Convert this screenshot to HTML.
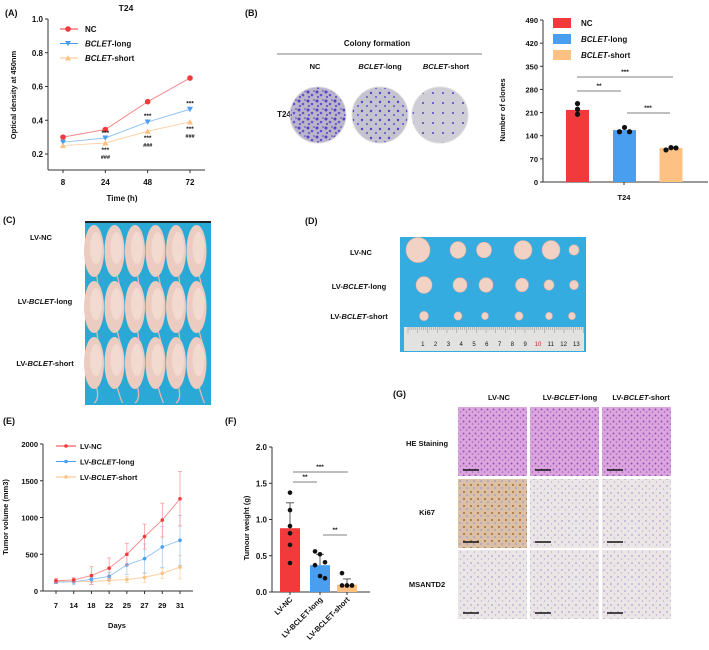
<!DOCTYPE html>
<html><head><meta charset="utf-8"><style>
html,body{margin:0;padding:0;background:#fff;}
svg{display:block;font-family:"Liberation Sans",Arial,sans-serif;font-weight:bold;}
</style></head><body>
<svg id="fig" width="709" height="650" viewBox="0 0 709 650" xmlns="http://www.w3.org/2000/svg">
<defs>
<pattern id="col1" width="9" height="9" patternUnits="userSpaceOnUse"><rect width="9" height="9" fill="#b9b6cc"/><circle cx="2" cy="2" r="1.5" fill="#5a3fc4"/><circle cx="6" cy="5" r="1.3" fill="#6a4fd0"/><circle cx="3" cy="7" r="1" fill="#5a3fc4"/><circle cx="8" cy="1" r="0.8" fill="#5a3fc4"/></pattern>
<pattern id="col2" width="9" height="9" patternUnits="userSpaceOnUse"><rect width="9" height="9" fill="#c4c3d0"/><circle cx="2" cy="3" r="1.2" fill="#5a3fc4"/><circle cx="7" cy="7" r="1" fill="#6a4fd0"/></pattern>
<pattern id="col3" width="10" height="10" patternUnits="userSpaceOnUse"><rect width="10" height="10" fill="#cfcdd6"/><circle cx="3" cy="3" r="1" fill="#5a3fc4"/></pattern>
<pattern id="he" width="6" height="6" patternUnits="userSpaceOnUse"><rect width="6" height="6" fill="#dba6dd"/><circle cx="1.5" cy="1.5" r="1" fill="#9b4fb8"/><circle cx="4.5" cy="4" r="0.8" fill="#a65fc0"/></pattern>
<pattern id="ki" width="7" height="7" patternUnits="userSpaceOnUse"><rect width="7" height="7" fill="#dcc0a6"/><circle cx="2" cy="2" r="1.1" fill="#b07a45"/><circle cx="5" cy="5" r="0.9" fill="#9a9ad0"/></pattern>
<pattern id="neg" width="7" height="7" patternUnits="userSpaceOnUse"><rect width="7" height="7" fill="#ece5e6"/><circle cx="2" cy="3" r="0.9" fill="#a7a6d6"/><circle cx="5.5" cy="6" r="0.7" fill="#b3b2dc"/></pattern>
</defs>
<g id="layer"></g>
</svg>
<script>
// ---- Panel A data ----
const aTimes=["8","24","48","72"];
const aNC=[0.30,0.345,0.51,0.65];
const aLong=[0.27,0.295,0.39,0.465];
const aShort=[0.25,0.265,0.335,0.39];
const aTicks=[0.2,0.4,0.6,0.8,1.0];
// ---- Panel B data ----
const bGroups=["NC","BCLET-long","BCLET-short"];
const bMeans=[218,157,103];
const bDots=[[237,220,205],[152,165,152],[97,104,103]];
const bTicks=[0,70,140,210,280,350,420,490];
// ---- Panel E data ----
const eDays=["7","14","18","22","25","27","29","31"];
const eNC=[140,150,210,310,500,740,965,1255];
const eNCerr=[30,30,120,140,150,170,230,370];
const eLong=[120,125,160,200,355,440,600,690];
const eLongErr=[20,40,30,50,130,200,280,340];
const eShort=[130,130,130,145,155,185,240,325];
const eShortErr=[20,20,40,50,40,70,70,160];
const eTicks=[0,500,1000,1500,2000];
// ---- Panel F data ----
const fGroups=["LV-NC","LV-BCLET-long","LV-BCLET-short"];
const fMeans=[0.88,0.37,0.10];
const fErr=[0.35,0.15,0.08];
const fDots=[[1.37,1.13,0.91,0.81,0.65,0.40],[0.56,0.52,0.41,0.37,0.22,0.19],[0.26,0.09,0.09,0.09,0.09,0.09]];
const fTicks=[0.0,0.5,1.0,1.5,2.0];

const NS="http://www.w3.org/2000/svg";
const L=document.getElementById('layer');
const RED="#f2393c",BLUE="#4a9ef0",ORA="#fcc183";
function mk(tag,attrs,parent){const e=document.createElementNS(NS,tag);for(const k in attrs)e.setAttribute(k,attrs[k]);(parent||L).appendChild(e);return e;}
function txt(x,y,s,size,anchor,parent){const t=mk('text',{x:x,y:y,'font-size':size,'text-anchor':anchor||'middle',fill:'#111'},parent);t.innerHTML=s;return t;}
function line(x1,y1,x2,y2,c,w,parent){return mk('line',{x1:x1,y1:y1,x2:x2,y2:y2,stroke:c||'#333',  'stroke-width':w||1},parent);}

// ===== Panel A =====
let t;
t=txt(5,16,"(A)",9,'start');


t=txt(126,11,"T24",8.5);


const ax0=63,ax1=190,ay0=170,ay1=19;
function aX(i){return ax0+(ax1-ax0)*i/(aTimes.length-1);}
function aY(v){return 154-(v-0.2)*(154-19)/0.8;}
let g=mk('g',{});


line(48,ay1,48,ay0,'#333',1,g);line(48,ay0,205,ay0,'#333',1,g);
aTicks.forEach(v=>{line(45,aY(v),48,aY(v),'#333',1,g);txt(43,aY(v)+3,v.toFixed(1),8,'end',g);});
aTimes.forEach((s,i)=>{line(aX(i),ay0,aX(i),ay0+3,'#333',1,g);txt(aX(i),185,s,8,'middle',g);});
t=txt(122,201,"Time (h)",8);


t=txt(0,0,"Optical density at 450nm",7.5);t.setAttribute('transform','translate(16,95) rotate(-90)');


function aSeries(vals,col,lc,shape,name){const sg=mk('g',{});


mk('polyline',{points:vals.map((v,i)=>aX(i)+','+aY(v)).join(' '),fill:'none',stroke:lc,'stroke-width':1},sg);
vals.forEach((v,i)=>{const x=aX(i),y=aY(v);
 if(shape==='c')mk('circle',{cx:x,cy:y,r:2.8,fill:col},sg);
 else if(shape==='d')mk('polygon',{points:`${x-3},${y-2.5} ${x+3},${y-2.5} ${x},${y+2.8}`,fill:col},sg);
 else mk('polygon',{points:`${x-3},${y+2.5} ${x+3},${y+2.5} ${x},${y-2.8}`,fill:col},sg);});return sg;}
aSeries(aNC,RED,"#f5898b",'c','series-a-nc');
aSeries(aLong,BLUE,"#90c2f5",'d','series-a-long');
aSeries(aShort,ORA,"#fdd3a8",'u','series-a-short');
// star annotations
const starsA=[[1,aLong,"***",-3],[1,aShort,"***",9],[2,aLong,"***",-4],[2,aShort,"***",9],[3,aLong,"***",-4],[3,aShort,"***",9]];
starsA.forEach(s=>{const a=txt(aX(s[0]),aY(s[1][s[0]])+s[3],s[2],6.5);});
[[1,aShort],[2,aShort],[3,aShort]].forEach(s=>{const a=txt(aX(s[0]),aY(s[1][s[0]])+16,"###",5.5);a.setAttribute('font-style','italic');});
// legend A
const legA=[["NC",RED,"c"],["<tspan font-style='italic'>BCLET</tspan>-long",BLUE,"d"],["<tspan font-style='italic'>BCLET</tspan>-short",ORA,"u"]];
legA.forEach((l,i)=>{const lg=mk('g',{});


const y=29+i*14.5;line(60,y,78,y,l[1],1,lg);
if(l[2]==='c')mk('circle',{cx:68,cy:y,r:2.8,fill:l[1]},lg);else if(l[2]==='d')mk('polygon',{points:`65,${y-2.5} 71,${y-2.5} 68,${y+2.8}`,fill:l[1]},lg);else mk('polygon',{points:`65,${y+2.5} 71,${y+2.5} 68,${y-2.8}`,fill:l[1]},lg);
txt(85,y+3,l[0],8,'start',lg);});

// ===== Panel B colonies =====
t=txt(245,16,"(B)",9,'start');


t=txt(377,46,"Colony formation",8);


line(277,54,482,54,'#555',0.8);
[["NC",315],["<tspan font-style='italic'>BCLET</tspan>-long",380],["<tspan font-style='italic'>BCLET</tspan>-short",446]].forEach(h=>{const a=txt(h[1],69,h[0],7.5);});
t=txt(284,117,"T24",8);


[[318,"col1"],[380,"col2"],[440,"col3"]].forEach(p=>{const c=mk('circle',{cx:p[0],cy:115,r:28,fill:`url(#${p[1]})`,stroke:'#ddd','stroke-width':1});});

// ===== Panel B bar chart =====
const bx=543,by0=182,by1=20;
function bY(v){return by0-(by0-by1)*v/490;}
const bCenters=[577.5,624.5,671];
g=mk('g',{});


line(bx,by1,bx,by0,'#333',1,g);line(bx,by0,708,by0,'#333',1,g);
bTicks.forEach(v=>{line(bx-3,bY(v),bx,bY(v),'#333',1,g);txt(bx-5,bY(v)+3,String(v),7.5,'end',g);});
line(624,by0,624,by0+3,'#333',1,g);txt(624,200,"T24",7.5,'middle',g);
t=txt(0,0,"Number of clones",7.5);t.setAttribute('transform','translate(505,110) rotate(-90)');


const bCols=[RED,BLUE,ORA];
bMeans.forEach((v,i)=>{const r=mk('rect',{x:bCenters[i]-11.5,y:bY(v),width:23,height:by0-bY(v),fill:bCols[i]});


bDots[i].forEach((d,j)=>{const c=mk('circle',{cx:bCenters[i]+(j-1)*5*(i===0?0:1),cy:bY(d),r:2.6,fill:'#111'});});});
line(577,77,673,77,'#555',0.8);txt(625,74,"***",6.5);
line(577,91,621,91,'#555',0.8);txt(599,88,"**",6.5);
line(627,113,670,113,'#555',0.8);txt(648,110,"***",6.5);
const legB=[["NC",RED],["<tspan font-style='italic'>BCLET</tspan>-long",BLUE],["<tspan font-style='italic'>BCLET</tspan>-short",ORA]];
legB.forEach((l,i)=>{const lg=mk('g',{});


const y=23+i*16;mk('rect',{x:553,y:y-5,width:18,height:10,fill:l[1]},lg);txt(581,y+3,l[0],8,'start',lg);});

// ===== Panel C mice =====
t=txt(3,223,"(C)",9,'start');


[["LV-NC",41,240],["LV-<tspan font-style='italic'>BCLET</tspan>-long",45,304],["LV-<tspan font-style='italic'>BCLET</tspan>-short",45,366]].forEach(r=>{const a=txt(r[1],r[2],r[0],7.5);});
g=mk('g',{});


mk('rect',{x:85,y:221,width:126,height:184,fill:'#2aa9d6'},g);
mk('rect',{x:85,y:221,width:126,height:2,fill:'#222'},g);
for(let r=0;r<3;r++)for(let k=0;k<6;k++){const cx=94+k*20.5,cy=251+r*56;
 mk('path',{d:`M${cx+2},${cy+22} q4,14 ${(k%2?6:-2)},${30-r*6}`,stroke:'#e6b8ae','stroke-width':1.3,fill:'none'},g);
 mk('ellipse',{cx:cx,cy:cy,rx:10,ry:26,fill:'#ecccc0'},g);
 mk('ellipse',{cx:cx+2,cy:cy-3,rx:6,ry:16,fill:'#f3dad0'},g);}

// ===== Panel D tumours =====
t=txt(305,224,"(D)",9,'start');


[["LV-NC",361,255],["LV-<tspan font-style='italic'>BCLET</tspan>-long",359,289],["LV-<tspan font-style='italic'>BCLET</tspan>-short",359,319]].forEach(r=>{const a=txt(r[1],r[2],r[0],7.5);});
g=mk('g',{});


mk('rect',{x:400,y:237,width:186,height:115,fill:'#34ace0'},g);
const tumR=[[12,8,7.5,9,9,5],[8,7,7,6.5,5,4.5],[4.5,4,3.5,4,3.5,3.5]];
const tumX=[[418,458,484,523,551,574],[424,460,486,522,549,574],[424,458,485,519,549,572]];
const tumY=[250,285,316];
for(let r=0;r<3;r++)for(let k=0;k<6;k++)mk('ellipse',{cx:tumX[r][k],cy:tumY[r],rx:tumR[r][k],ry:tumR[r][k]*1.05,fill:'#f2d2c4',stroke:'#e4b0a2','stroke-width':0.6},g);
mk('rect',{x:404,y:327,width:180,height:24,fill:'#e2e2e0'},g);
for(let i=0;i<=90;i++)line(408+i*1.95,327,408+i*1.95,330+(i%5===0?3:0),'#777',0.4,g);
for(let n=1;n<=13;n++){const a=txt(410+n*12.8,346,String(n),6,'middle',g);a.setAttribute('font-weight','normal');if(n===10)a.setAttribute('fill','#c21f1f');}

// ===== Panel E line chart =====
t=txt(3,424,"(E)",9,'start');


const ex0=56,ex1=180,ey0=591,ey1=444;
function eX(i){return ex0+(ex1-ex0)*i/(eDays.length-1);}
function eY(v){return ey0-(ey0-ey1)*v/2000;}
g=mk('g',{});


line(43,ey1,43,ey0,'#333',1,g);line(43,ey0,193,ey0,'#333',1,g);
eTicks.forEach(v=>{line(40,eY(v),43,eY(v),'#333',1,g);txt(38,eY(v)+3,String(v),7.5,'end',g);});
eDays.forEach((s,i)=>{line(eX(i),ey0,eX(i),ey0+3,'#333',1,g);txt(eX(i),608,s,7.5,'middle',g);});
t=txt(117,628,"Days",7.5);


t=txt(0,0,"Tumor volume (mm3)",7.5);t.setAttribute('transform','translate(8,517) rotate(-90)');


function eSeries(vals,errs,col,lc,name){const sg=mk('g',{});


vals.forEach((v,i)=>{const x=eX(i);line(x,eY(v+errs[i]),x,eY(Math.max(0,v-errs[i])),lc,0.7,sg);line(x-2,eY(v+errs[i]),x+2,eY(v+errs[i]),lc,0.7,sg);line(x-2,eY(Math.max(0,v-errs[i])),x+2,eY(Math.max(0,v-errs[i])),lc,0.7,sg);});
mk('polyline',{points:vals.map((v,i)=>eX(i)+','+eY(v)).join(' '),fill:'none',stroke:lc,'stroke-width':1},sg);
vals.forEach((v,i)=>mk('circle',{cx:eX(i),cy:eY(v),r:1.8,fill:col},sg));}
eSeries(eShort,eShortErr,ORA,"#fdd0a2",'series-e-short');
eSeries(eLong,eLongErr,BLUE,"#9ac6f3",'series-e-long');
eSeries(eNC,eNCerr,RED,"#f58f91",'series-e-nc');
const legE=[["LV-NC",RED],["LV-<tspan font-style='italic'>BCLET</tspan>-long",BLUE],["LV-<tspan font-style='italic'>BCLET</tspan>-short",ORA]];
legE.forEach((l,i)=>{const lg=mk('g',{});


const y=446+i*15.5;line(56,y,76,y,l[1],1,lg);mk('circle',{cx:66,cy:y,r:1.8,fill:l[1]},lg);txt(80,y+3,l[0],7.5,'start',lg);});

// ===== Panel F bar chart =====
t=txt(225,424,"(F)",9,'start');


const fx=272,fy0=592,fy1=447;
function fY(v){return fy0-(fy0-fy1)*v/2.0;}
const fCenters=[290,320,347];
g=mk('g',{});


line(fx,fy1,fx,fy0,'#333',1,g);line(fx,fy0,370,fy0,'#333',1,g);
fTicks.forEach(v=>{line(fx-3,fY(v),fx,fY(v),'#333',1,g);txt(fx-5,fY(v)+3,v.toFixed(1),8,'end',g);});
t=txt(0,0,"Tumour weight (g)",7.5);t.setAttribute('transform','translate(249,528) rotate(-90)');


fMeans.forEach((v,i)=>{const c=fCenters[i];
const r=mk('rect',{x:c-10,y:fY(v),width:20,height:fy0-fY(v),fill:bCols[i]});


line(c,fY(v),c,fY(v+fErr[i]),'#333',0.8);line(c-4,fY(v+fErr[i]),c+4,fY(v+fErr[i]),'#333',0.8);
line(c,fy0,c,fy0+3,'#333',1);
fDots[i].forEach((d,j)=>{const off=[0,0,0,0,0,0];const dx=(i===0)?0:((j%3)-1)*5;const c2=mk('circle',{cx:c+dx,cy:fY(d),r:2.3,fill:'#111'});});
const lab=txt(0,0,fGroups[i],7.5,'end');lab.setAttribute('transform',`translate(${c+3},${fy0+8}) rotate(-45)`);

});
line(293,472,348,472,'#555',0.8);txt(320,469,"***",6.5);
line(293,482,317,482,'#555',0.8);txt(305,479,"**",6.5);
line(323,535,347,535,'#555',0.8);txt(335,532,"**",6.5);

// ===== Panel G IHC =====
t=txt(393,397,"(G)",9,'start');


[["LV-NC",499],["LV-<tspan font-style='italic'>BCLET</tspan>-long",570],["LV-<tspan font-style='italic'>BCLET</tspan>-short",641]].forEach(h=>{const a=txt(h[1],400,h[0],7.5);});
[["HE Staining",443],["Ki67",512],["MSANTD2",584]].forEach(r=>{const a=txt(427,r[1]+3,r[0],7.5);});
const gCols=[458,530,602],gRows=[407,479,550];
const fills=[["he","he","he"],["ki","neg","neg"],["neg","neg","neg"]];
for(let r=0;r<3;r++)for(let c=0;c<3;c++){const im=mk('rect',{x:gCols[c],y:gRows[r],width:69,height:69,fill:`url(#${fills[r][c]})`});


line(gCols[c]+5,gRows[r]+63,gCols[c]+21,gRows[r]+63,'#111',1.5);}
</script>
</body></html>
